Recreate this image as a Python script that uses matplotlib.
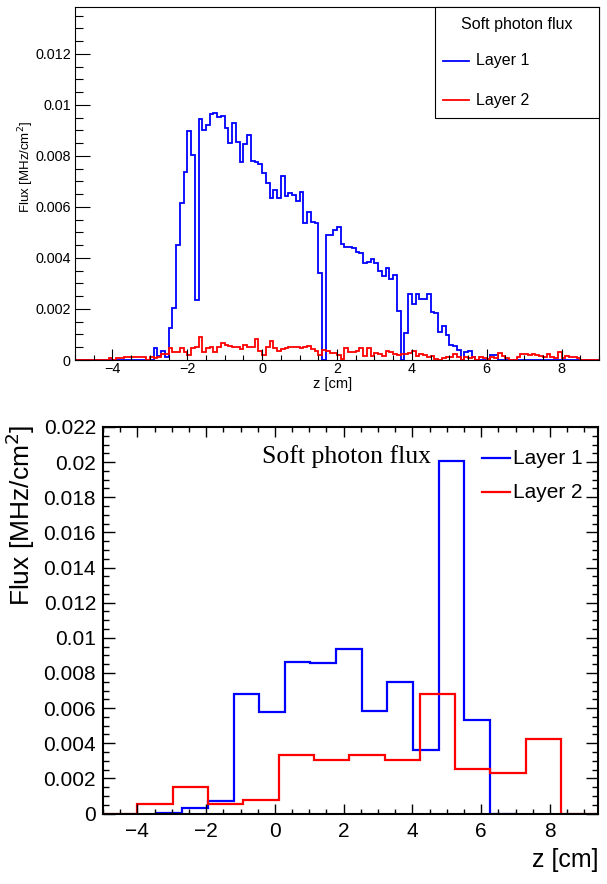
import numpy as np
import matplotlib
matplotlib.use('Agg')
import matplotlib.pyplot as plt
from matplotlib.ticker import MultipleLocator
from matplotlib.patches import Rectangle
from matplotlib.lines import Line2D

plt.rcParams['font.family'] = ['Liberation Sans', 'DejaVu Sans']
plt.rcParams['axes.unicode_minus'] = True

# ---- top panel: fine binning, 0.1 cm bins from -5 to 9 cm
fine_edges = np.linspace(-5, 9, 141)
layer1_fine = [
    0, 0, 0, 0, 0, 0, 0, 0, 0, 0,
    0, 0, 0, 0, 0, 0, 0, 0, 0, 0,
    0, 0.00046, 0.00015, 0.00036, 0.00013, 0.00124, 0.00203, 0.0045, 0.00614, 0.00738,
    0.00899, 0.00804, 0.00235, 0.00945, 0.00902, 0.00921, 0.00965, 0.00967, 0.00952, 0.00957,
    0.00908, 0.0085, 0.00928, 0.00856, 0.00777, 0.00847, 0.00882, 0.0078, 0.00777, 0.00768,
    0.00732, 0.00693, 0.00634, 0.00666, 0.00634, 0.00721, 0.00643, 0.00656, 0.00647, 0.00625,
    0.00657, 0.00538, 0.00581, 0.00542, 0.00538, 0.00342, 0, 0.0049, 0.0049, 0.0051,
    0.00522, 0.00455, 0.00444, 0.00442, 0.00438, 0.00425, 0.00421, 0.00379, 0.00385, 0.00395,
    0.00379, 0.0035, 0.00329, 0.0036, 0.00316, 0.00333, 0.00193, 0, 0.00107, 0.0026,
    0.0022, 0.0026, 0.0024, 0.0024, 0.0026, 0.0019, 0.00186, 0.00111, 0.00133, 0.00098,
    0.00059, 0.00055, 0.00039, 0, 0.00033, 0.00035, 0.0001, 0, 0, 0,
    0, 0.0002, 0.0002, 0, 0, 0, 0, 0, 0, 0,
    0, 0, 0, 0, 0, 0, 0, 0, 0, 0,
    0, 0, 0, 0, 0, 0, 0, 0, 0, 0,
]
layer2_fine = [
    0, 0, 0, 0, 0, 0, 0, 0, 0, 0.00006,
    0, 0.00006, 0.00006, 0.0001, 0.0001, 0.0001, 0.00013, 0.0001, 0.0001, 0,
    0.0001, 0.00008, 0.00012, 0.00024, 0.00025, 0.00046, 0.00033, 0.00033, 0.00046, 0.00033,
    0.0002, 0.00046, 0.0005, 0.00089, 0.0003, 0.00046, 0.0005, 0.0003, 0.0005, 0.00068,
    0.0006, 0.00056, 0.0005, 0.0005, 0.00043, 0.0006, 0.0005, 0.0005, 0.00081, 0.00036,
    0.00018, 0.0005, 0.00074, 0.00047, 0.00036, 0.00043, 0.00047, 0.0005, 0.0005, 0.0005,
    0.00047, 0.0005, 0.00053, 0.00043, 0.00035, 0.00018, 0.0004, 0.00036, 0.00028, 0.00026,
    0.00018, 0.00005, 0.00046, 0.00033, 0.00033, 0.00036, 0.00046, 0.00016, 0.00046, 0.00016,
    0.00026, 0.00022, 0.00016, 0.00036, 0.00033, 0.00022, 0.00018, 0.00022, 0.00025, 0.00026,
    0.00036, 0.00016, 0.00022, 0.00018, 0.0001, 0.00016, 0.00003, 0, 0.00006, 0.0001,
    0.00012, 0.00024, 0.0001, 0, 0.0001, 0.00006, 0.0001, 0, 0.0001, 0.00006,
    0.00003, 0.0001, 0.00008, 0.00026, 0.00016, 0.00008, 0, 0, 0.00013, 0.00024,
    0.00022, 0.0002, 0.00024, 0.0002, 0.00014, 0.00013, 0.00022, 0.00012, 0.00007, 0.0003,
    0.00007, 0.00015, 0.0001, 0.00012, 0.00007, 0, 0, 0, 0, 0,
]

# ---- bottom panel: coarse binning
layer1_edges = [-3.44, -2.69, -1.95, -1.20, -0.46, 0.29, 1.03, 1.78, 2.53, 3.27, 4.02, 4.76, 5.51, 6.26, 7.0]
layer1_coarse = [0.00005, 0.00033, 0.00071, 0.00683, 0.00577, 0.00862, 0.00858, 0.00937,
                 0.00584, 0.00751, 0.00362, 0.02009, 0.00533, 0.0]
layer2_edges = [-5.0, -4.0, -2.97, -1.945, -0.92, 0.11, 1.14, 2.17, 3.19, 4.22, 5.25, 6.27, 7.30, 8.33, 9.4]
layer2_coarse = [0.0, 0.00052, 0.00153, 0.00052, 0.00075, 0.00333, 0.00305, 0.00333, 0.00305,
                 0.00681, 0.00252, 0.00229, 0.00424, 0.0]

x_ticks = [-4, -2, 0, 2, 4, 6, 8]
x_labels = ['\u22124', '\u22122', '0', '2', '4', '6', '8']
top_yticks = [0, 0.002, 0.004, 0.006, 0.008, 0.01, 0.012]
top_ylabels = ['0', '0.002', '0.004', '0.006', '0.008', '0.01', '0.012']
bot_yticks = [0, 0.002, 0.004, 0.006, 0.008, 0.01, 0.012, 0.014, 0.016, 0.018, 0.02, 0.022]
bot_ylabels = ['0', '0.002', '0.004', '0.006', '0.008', '0.01', '0.012', '0.014', '0.016', '0.018', '0.02', '0.022']

W, H = 607, 884
BLUE = '#0000ff'
RED = '#ff0000'


def fx(x):
    return x / W


def fy(y):
    return 1 - y / H


fig = plt.figure(figsize=(W / 100, H / 100), dpi=100)

# ================= top panel
ax1 = fig.add_axes([fx(75), fy(360), (599 - 75) / W, (360 - 7) / H])
ax1.stairs(layer1_fine, fine_edges, color=BLUE, lw=1.3, baseline=0)
ax1.stairs(layer2_fine, fine_edges, color=RED, lw=1.3, baseline=0)
ax1.set_xlim(-5, 9)
ax1.set_ylim(0, 0.01384)
ax1.set_xticks(x_ticks, x_labels)
ax1.set_yticks(top_yticks, top_ylabels)
ax1.xaxis.set_minor_locator(MultipleLocator(0.5))
ax1.yaxis.set_minor_locator(MultipleLocator(0.0005))
ax1.tick_params(which='both', direction='in', labelsize=10.4, width=0.8)
ax1.tick_params(axis='y', which='major', length=11, pad=3)
ax1.tick_params(axis='y', which='minor', length=5.5)
ax1.tick_params(axis='x', which='major', length=8, pad=1.5)
ax1.tick_params(axis='x', which='minor', length=3.6)
for s in ax1.spines.values():
    s.set_linewidth(0.8)

fig.text(fx(26), fy(167), 'Flux [MHz/cm$^{2}$]', rotation=90, ha='center', va='center', fontsize=9.5)
fig.text(fx(333), fy(384), 'z [cm]', ha='center', va='center', fontsize=10.5)

# legend box of the top panel
fig.patches.append(Rectangle((fx(435), fy(118)), (599 - 435) / W, (118 - 7) / H,
                             transform=fig.transFigure, facecolor='white', edgecolor='black',
                             lw=0.8, zorder=5))
fig.text(fx(517), fy(25), 'Soft photon flux', ha='center', va='center', fontsize=11.5, zorder=6)
fig.lines.append(Line2D([fx(443), fx(469)], [fy(61), fy(61)], transform=fig.transFigure,
                        color=BLUE, lw=1.3, zorder=6))
fig.text(fx(476), fy(61), 'Layer 1', ha='left', va='center', fontsize=11.5, zorder=6)
fig.lines.append(Line2D([fx(443), fx(469)], [fy(100), fy(100)], transform=fig.transFigure,
                        color=RED, lw=1.3, zorder=6))
fig.text(fx(476), fy(100), 'Layer 2', ha='left', va='center', fontsize=11.5, zorder=6)

# ================= bottom panel
ax2 = fig.add_axes([fx(103), fy(813.5), (598 - 103) / W, (813.5 - 427) / H])
ax2.stairs(layer1_coarse, layer1_edges, color=BLUE, lw=1.6, baseline=0)
ax2.stairs(layer2_coarse, layer2_edges, color=RED, lw=1.6, baseline=0)
ax2.set_xlim(-5, 9.4)
ax2.set_ylim(0, 0.022)
ax2.set_xticks(x_ticks, x_labels)
ax2.set_yticks(bot_yticks, bot_ylabels)
ax2.xaxis.set_minor_locator(MultipleLocator(0.5))
ax2.yaxis.set_minor_locator(MultipleLocator(0.0005))
ax2.tick_params(which='both', direction='in', top=True, right=True, labelsize=15, width=1.0)
ax2.tick_params(axis='y', which='major', length=8.6, pad=5)
ax2.tick_params(axis='y', which='minor', length=4.3)
ax2.tick_params(axis='x', which='major', length=7, pad=6)
ax2.tick_params(axis='x', which='minor', length=3.6)
for s in ax2.spines.values():
    s.set_linewidth(1.5)

fig.text(fx(20), fy(425), 'Flux [MHz/cm$^{2}$]', rotation=90, ha='center', va='top', fontsize=19)
fig.text(fx(598), fy(860), 'z [cm]', ha='right', va='center', fontsize=18)

fig.text(fx(346), fy(457), 'Soft photon flux', ha='center', va='center', fontsize=18.5,
         family=['Liberation Serif', 'DejaVu Serif'])
fig.lines.append(Line2D([fx(482), fx(510)], [fy(458), fy(458)], transform=fig.transFigure,
                        color=BLUE, lw=1.6))
fig.text(fx(513), fy(458), 'Layer 1', ha='left', va='center', fontsize=15)
fig.lines.append(Line2D([fx(482), fx(510)], [fy(492), fy(492)], transform=fig.transFigure,
                        color=RED, lw=1.6))
fig.text(fx(513), fy(492), 'Layer 2', ha='left', va='center', fontsize=15)

fig.savefig('out.png', dpi=100)
